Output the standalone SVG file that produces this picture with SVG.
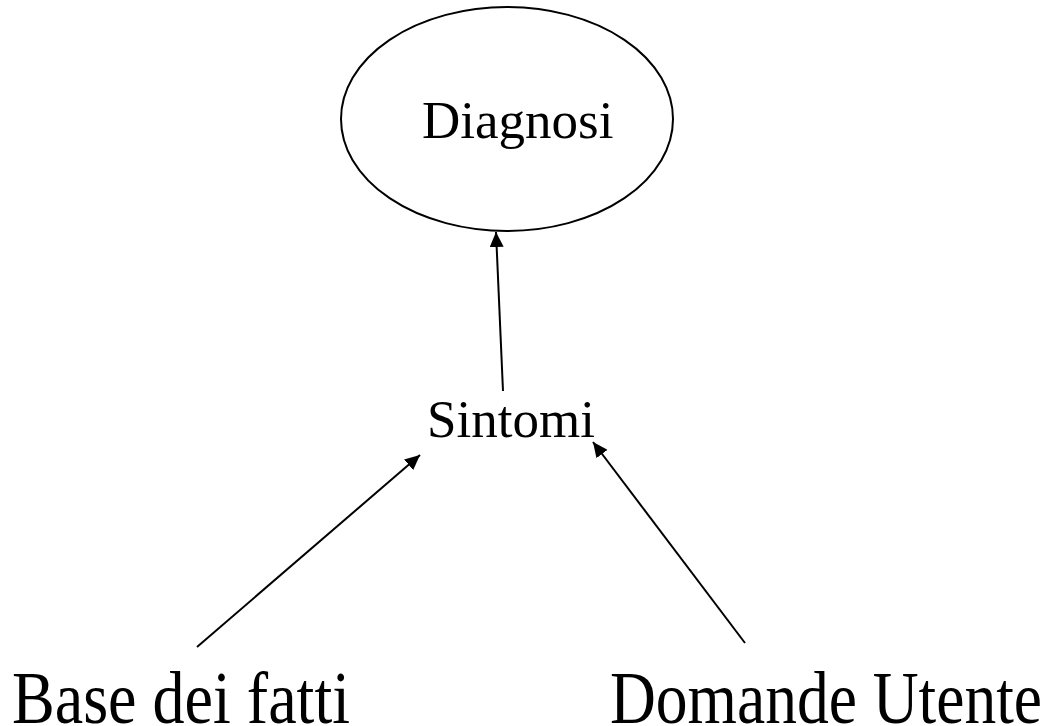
<svg xmlns="http://www.w3.org/2000/svg" width="1049" height="726" viewBox="0 0 1049 726">
<style>
.lbl{font-family:"Liberation Serif","Times New Roman",serif;fill:#000}
.edge{stroke:#000;stroke-width:2;fill:none}
</style>
<defs>
<marker id="ah" markerUnits="userSpaceOnUse" markerWidth="16" markerHeight="14" refX="15" refY="7" orient="auto">
<path d="M0,0 L15,7 L0,14 z" fill="#000"/>
</marker>
</defs>
<rect width="1049" height="726" fill="#fff"/>
<g id="connectors">
<line class="edge" x1="503" y1="391" x2="496" y2="232" marker-end="url(#ah)"/>
<line class="edge" x1="197" y1="647" x2="420" y2="455" marker-end="url(#ah)"/>
<line class="edge" x1="745" y1="643" x2="593" y2="442" marker-end="url(#ah)"/>
</g>
<g id="diagnosi">
<ellipse cx="507" cy="119" rx="166" ry="112" fill="none" stroke="#000" stroke-width="2"/>
<text class="lbl" x="422" y="138" font-size="53">Diagnosi</text>
</g>
<g id="sintomi">
<text class="lbl" x="427" y="437" font-size="53">Sintomi</text>
</g>
<g id="base">
<text class="lbl" x="12" y="723" font-size="74" textLength="338" lengthAdjust="spacingAndGlyphs">Base dei fatti</text>
</g>
<g id="domande">
<text class="lbl" x="610" y="723" font-size="74" textLength="432" lengthAdjust="spacingAndGlyphs">Domande Utente</text>
</g>
</svg>
